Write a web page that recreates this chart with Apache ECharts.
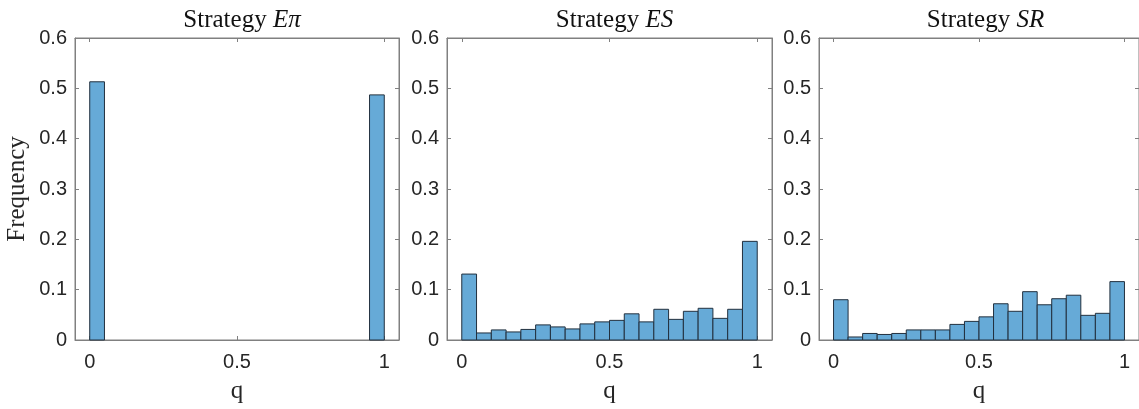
<!DOCTYPE html>
<html>
<head>
<meta charset="utf-8">
<script src="https://cdn.jsdelivr.net/npm/echarts@6/dist/echarts.min.js"></script>
<style>html,body{margin:0;padding:0;background:#fff}#c{width:1139px;height:409px}</style>
</head>
<body>
<div id="c"></div>
<script>
// Histogram bin edges (20 bins on [0,1])
const binEdges = [0, 0.05, 0.1, 0.15, 0.2, 0.25, 0.3, 0.35, 0.4, 0.45, 0.5,
                  0.55, 0.6, 0.65, 0.7, 0.75, 0.8, 0.85, 0.9, 0.95, 1];
// Frequencies per bin
const freqEpi = [0.513, 0, 0, 0, 0, 0, 0, 0, 0, 0, 0, 0, 0, 0, 0, 0, 0, 0, 0, 0.487];
const freqES  = [0.131, 0.014, 0.020, 0.016, 0.021, 0.030, 0.026, 0.022, 0.032, 0.036,
                 0.039, 0.052, 0.036, 0.061, 0.041, 0.057, 0.063, 0.043, 0.061, 0.196];
const freqSR  = [0.080, 0.006, 0.013, 0.011, 0.013, 0.020, 0.020, 0.020, 0.031, 0.037,
                 0.046, 0.072, 0.057, 0.096, 0.070, 0.082, 0.089, 0.049, 0.053, 0.116];
const titleNames = ['E\u03c0', 'ES', 'SR'];
const xTicks = [0, 0.5, 1];
const yTicks = [0, 0.1, 0.2, 0.3, 0.4, 0.5, 0.6];
const xLabel = 'q';
const yLabel = 'Frequency';

const panels = [freqEpi, freqES, freqSR];
const grids = [
  {left: 75, top: 38, width: 324, height: 304},
  {left: 447, top: 38, width: 325, height: 304},
  {left: 819, top: 38, width: 323, height: 304}
];
const axisGrey = '#808080';
const textCol = '#262626';
const sansFont = 'Liberation Sans';
const serifFont = 'Liberation Serif';

const option = {
  animation: false,
  backgroundColor: '#ffffff',
  title: [], grid: [], xAxis: [], yAxis: [], series: []
};

panels.forEach((freq, i) => {
  const g = grids[i];
  option.grid.push(Object.assign({show: true, borderColor: axisGrey, borderWidth: 1, backgroundColor: '#fff'}, g));
  option.title.push({
    text: '{a|Strategy }{b|' + titleNames[i] + '}',
    left: g.left + g.width / 2, top: 3, textAlign: 'center',
    textStyle: {
      fontWeight: 'normal',
      rich: {
        a: {fontFamily: serifFont, fontSize: 25, fontWeight: 'normal', color: '#111'},
        b: {fontFamily: serifFont, fontSize: 25, fontWeight: 'normal', fontStyle: 'italic', color: '#111'}
      }
    }
  });
  // bottom x axis
  option.xAxis.push({
    type: 'value', gridIndex: i, min: -0.05, max: 1.05, position: 'bottom',
    name: xLabel, nameLocation: 'middle', nameGap: 39,
    nameTextStyle: {fontFamily: serifFont, fontSize: 25, color: textCol},
    axisLine: {show: true, onZero: false, lineStyle: {color: axisGrey}},
    axisTick: {show: true, inside: true, length: 4, lineStyle: {color: axisGrey}, customValues: xTicks},
    axisLabel: {show: true, customValues: xTicks, fontFamily: sansFont, fontSize: 20, color: textCol, margin: 12,
      formatter: v => String(v)},
    splitLine: {show: false}
  });
  // top x axis (box ticks)
  option.xAxis.push({
    type: 'value', gridIndex: i, min: -0.05, max: 1.05, position: 'top',
    axisLine: {show: true, onZero: false, lineStyle: {color: axisGrey}},
    axisTick: {show: true, inside: true, length: 4, lineStyle: {color: axisGrey}, customValues: xTicks},
    axisLabel: {show: false}, splitLine: {show: false}
  });
  // left y axis
  option.yAxis.push({
    type: 'value', gridIndex: i, min: 0, max: 0.6, interval: 0.1, position: 'left',
    name: i === 0 ? yLabel : '', nameLocation: 'middle', nameGap: 45,
    nameTextStyle: {fontFamily: serifFont, fontSize: 25, color: textCol},
    axisLine: {show: true, onZero: false, lineStyle: {color: axisGrey}},
    axisTick: {show: true, inside: true, length: 4, lineStyle: {color: axisGrey}},
    axisLabel: {show: true, fontFamily: sansFont, fontSize: 20, color: textCol, margin: 8,
      formatter: v => String(Math.round(v * 10) / 10)},
    splitLine: {show: false}
  });
  // right y axis (box ticks)
  option.yAxis.push({
    type: 'value', gridIndex: i, min: 0, max: 0.6, interval: 0.1, position: 'right',
    axisLine: {show: true, onZero: false, lineStyle: {color: axisGrey}},
    axisTick: {show: true, inside: true, length: 4, lineStyle: {color: axisGrey}},
    axisLabel: {show: false}, splitLine: {show: false}
  });
  const data = freq.map((f, k) => [binEdges[k], binEdges[k + 1], f]);
  option.series.push({
    type: 'custom',
    xAxisIndex: i * 2, yAxisIndex: i * 2,
    data: data,
    encode: {x: [0, 1], y: 2},
    renderItem: function (params, api) {
      const v = api.value(2);
      if (!v) return null;
      const p0 = api.coord([api.value(0), 0]);
      const p1 = api.coord([api.value(1), v]);
      return {
        type: 'rect',
        shape: {x: p0[0], y: p1[1], width: p1[0] - p0[0], height: p0[1] - p1[1]},
        style: {fill: '#66aad7', stroke: '#22303e', lineWidth: 1}
      };
    }
  });
});

const chart = echarts.init(document.getElementById('c'), null, {renderer: 'canvas'});
chart.setOption(option);
</script>
</body>
</html>
